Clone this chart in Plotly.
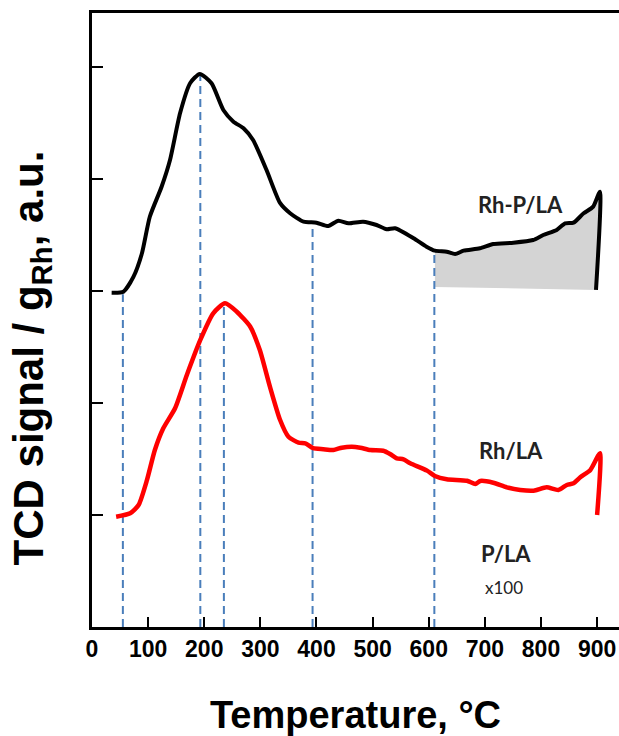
import plotly.graph_objects as go

# Rh-P/LA (black) curve: temperature (°C), signal (a.u.)
rhp_temp = [35, 56, 74, 89, 103, 124, 139, 157, 175, 192, 213, 234, 252, 270, 287, 311, 335,
            353, 377, 400, 421, 439, 457, 483, 507, 525, 540, 573, 596, 611, 632, 647, 662,
            691, 715, 751, 786, 804, 828, 843, 858, 876, 893, 905, 898]
rhp_sig = [2.985, 2.994, 3.128, 3.337, 3.663, 3.931, 4.170, 4.589, 4.857, 4.938, 4.854, 4.616,
           4.512, 4.453, 4.348, 4.080, 3.786, 3.694, 3.619, 3.610, 3.580, 3.628, 3.604, 3.619,
           3.589, 3.551, 3.560, 3.471, 3.396, 3.360, 3.351, 3.330, 3.360, 3.381, 3.420, 3.431,
           3.455, 3.500, 3.545, 3.604, 3.610, 3.694, 3.753, 3.887, 3.009]

# shaded area baseline under Rh-P/LA (high-temperature region)
shade_start = 611
shade_base_left = 3.036
shade_base_right = 3.009

# Rh/LA (red) curve
rh_temp = [43, 68, 83, 98, 112, 127, 148, 169, 193, 216, 237, 258, 282, 299, 317, 335,
           350, 368, 380, 394, 412, 430, 445, 463, 478, 496, 519, 531, 543, 555, 567,
           597, 611, 632, 668, 683, 692, 715, 739, 763, 787, 810, 831, 846, 858, 870,
           888, 905, 900]
rh_sig = [0.985, 1.015, 1.089, 1.313, 1.580, 1.774, 1.953, 2.250, 2.563, 2.801, 2.890, 2.815,
          2.681, 2.473, 2.146, 1.850, 1.699, 1.646, 1.640, 1.596, 1.587, 1.580, 1.601, 1.610,
          1.601, 1.580, 1.574, 1.545, 1.506, 1.497, 1.462, 1.396, 1.348, 1.319, 1.306, 1.277,
          1.304, 1.288, 1.247, 1.223, 1.217, 1.247, 1.223, 1.268, 1.283, 1.337, 1.402, 1.551,
          1.000]

# vertical dashed guide lines: temperature and upper end (signal)
guide_temp = [55, 193, 235, 393, 610]
guide_top = [2.97, 4.93, 2.88, 3.59, 3.35]

x_ticks = [0, 100, 200, 300, 400, 500, 600, 700, 800, 900]
y_ticks = [1, 2, 3, 4, 5]

fig = go.Figure()

# shaded region polygon built from the curve
sx = [t for t, s in zip(rhp_temp[:-1], rhp_sig[:-1]) if t >= shade_start]
sy = [s for t, s in zip(rhp_temp[:-1], rhp_sig[:-1]) if t >= shade_start]
sx = sx + [rhp_temp[-1], shade_start]
sy = sy + [shade_base_right, shade_base_left]
fig.add_trace(go.Scatter(x=sx, y=sy, fill="toself", fillcolor="#d4d4d4",
                         mode="none", hoverinfo="skip", showlegend=False))

# dashed guides
gx, gy = [], []
for t, top in zip(guide_temp, guide_top):
    gx += [t, t, None]
    gy += [0, top, None]
fig.add_trace(go.Scatter(x=gx, y=gy, mode="lines",
                         line=dict(color="#4a7ebb", width=2, dash="8px,5px"),
                         showlegend=False, hoverinfo="skip"))

fig.add_trace(go.Scatter(x=rhp_temp, y=rhp_sig, mode="lines",
                         line=dict(color="black", width=4, shape="spline", smoothing=0.6),
                         showlegend=False))
fig.add_trace(go.Scatter(x=rh_temp, y=rh_sig, mode="lines",
                         line=dict(color="#ff0000", width=4.5, shape="spline", smoothing=0.6),
                         showlegend=False))

lab_font = dict(family="Lato", size=22, color="#222222", weight="bold")
fig.add_annotation(x=764, y=3.77, text="Rh-P/LA", showarrow=False, font=lab_font)
fig.add_annotation(x=746, y=1.58, text="Rh/LA", showarrow=False, font=lab_font)
fig.add_annotation(x=737, y=0.66, text="P/LA", showarrow=False, font=lab_font)
fig.add_annotation(x=734, y=0.35, text="x100", showarrow=False,
                   font=dict(family="Lato", size=17, color="#222222"))

# y-axis title as rotated annotation (positioned like the reference)
fig.add_annotation(xref="paper", yref="paper", x=-0.115, y=0.438, xanchor="center",
                   yanchor="middle", textangle=-90, showarrow=False,
                   text="TCD signal / g<sub>Rh</sub>, a.u.",
                   font=dict(family="Liberation Sans", size=42, color="black", weight="bold"))

fig.update_layout(
    width=619, height=736,
    margin=dict(l=92, r=0, t=13, b=109),
    paper_bgcolor="white", plot_bgcolor="white",
    xaxis=dict(range=[0, 939], tickvals=x_ticks, ticks="inside", ticklen=10, tickwidth=2,
               tickcolor="black", showline=True, linecolor="black", linewidth=2.5,
               mirror=True, showgrid=False, zeroline=False, automargin=False,
               tickfont=dict(family="Liberation Sans", size=23, color="black", weight="bold"),
               title=dict(text="Temperature, °C", standoff=43,
                          font=dict(family="Liberation Sans", size=38, color="black",
                                    weight="bold"))),
    yaxis=dict(range=[0, 5.482], tickvals=y_ticks, ticks="inside", ticklen=11, tickwidth=2,
               tickcolor="black", showline=True, linecolor="black", linewidth=2.5,
               showticklabels=False, showgrid=False, zeroline=False, automargin=False),
)

fig.write_html("out.html", config={"displayModeBar": False},
               post_script="document.body.style.margin='0';")
